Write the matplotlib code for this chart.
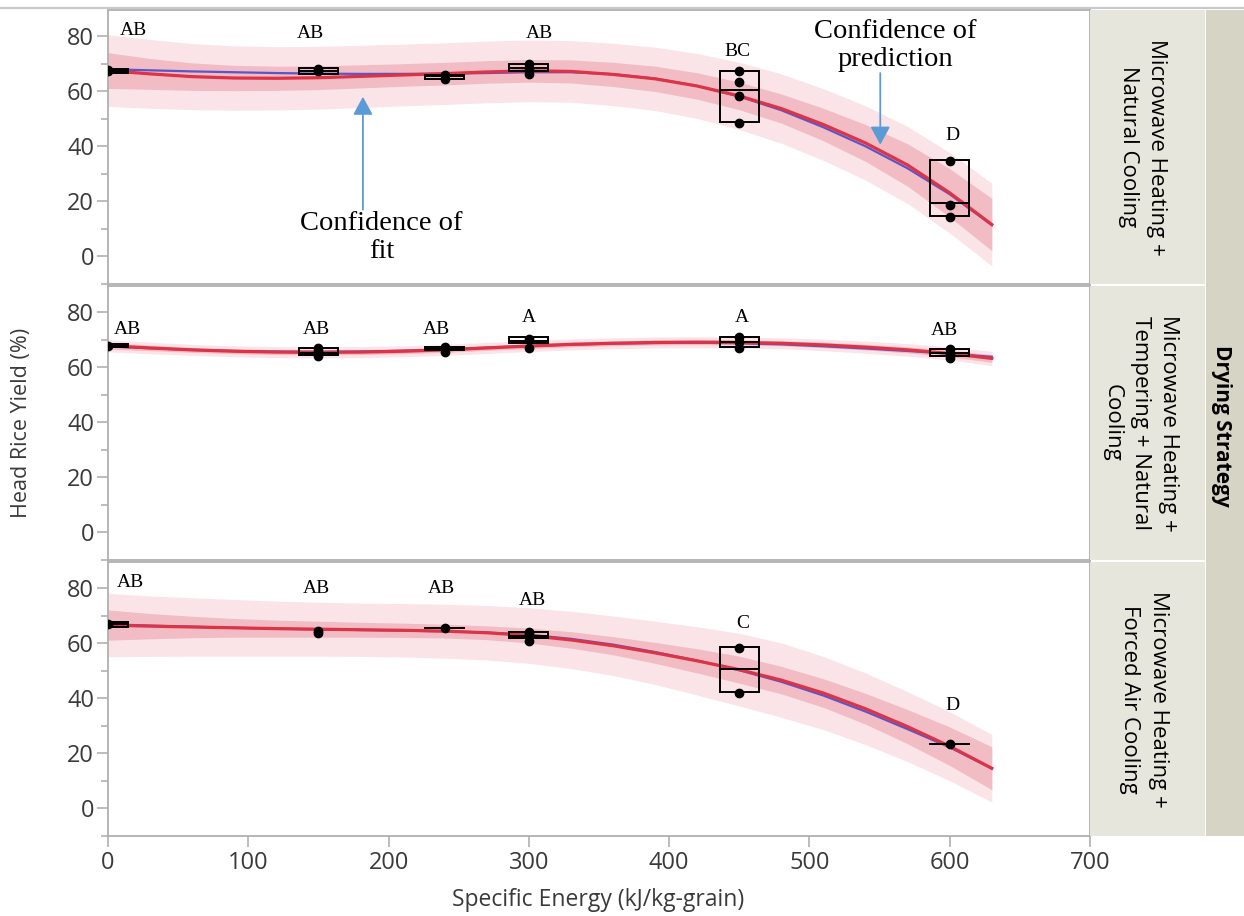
import numpy as np
import matplotlib
matplotlib.use("Agg")
import matplotlib.pyplot as plt
from matplotlib.lines import Line2D
from matplotlib.patches import Rectangle

plt.rcParams['font.family'] = ['Open Sans', 'DejaVu Sans']

# fitted curves, read at every 30 kJ/kg
energy = [0, 30, 60, 90, 120, 150, 180, 210, 240, 270, 300, 330, 360, 390, 420, 450, 480, 510, 540, 570, 600, 630]

natural_red = [67.5, 66.3, 65.3, 64.8, 64.7, 64.9, 65.4, 65.9, 66.4, 67.0, 67.4, 67.2, 66.1, 64.5, 61.9, 58.3, 53.7, 47.9, 41.2, 33.2, 23.1, 11.6]
natural_blue = [68.0, 67.6, 67.2, 66.9, 66.6, 66.4, 66.3, 66.3, 66.4, 66.6, 66.9, 66.9, 66.2, 64.6, 61.9, 58.1, 53.1, 46.9, 40.0, 32.0, 22.6, 11.4]
natural_fit_half = [6.5, 5.6, 5.0, 4.6, 4.4, 4.3, 4.2, 4.1, 4.1, 4.1, 4.1, 4.2, 4.4, 4.6, 4.8, 5.0, 5.3, 5.9, 6.7, 7.7, 8.8, 9.5]
natural_pred_half = [13.0, 12.5, 12.0, 11.7, 11.5, 11.4, 11.3, 11.2, 11.2, 11.2, 11.2, 11.2, 11.3, 11.5, 11.8, 12.2, 12.6, 13.0, 13.5, 14.0, 14.6, 15.0]

tempering_red = [67.8, 67.0, 66.3, 65.8, 65.5, 65.4, 65.5, 65.8, 66.3, 67.0, 67.7, 68.3, 68.7, 69.0, 69.1, 69.0, 68.7, 68.1, 67.3, 66.3, 65.0, 63.2]
tempering_blue = [67.6, 66.9, 66.3, 65.9, 65.7, 65.6, 65.7, 66.0, 66.5, 67.1, 67.7, 68.2, 68.6, 68.8, 68.9, 68.7, 68.3, 67.6, 66.8, 65.9, 64.9, 63.8]
tempering_fit_half = [1.2, 1.0, 0.9, 0.9, 0.9, 0.9, 0.9, 0.9, 0.9, 0.9, 0.9, 0.9, 0.9, 0.9, 0.9, 0.9, 0.9, 1.0, 1.0, 1.1, 1.2, 1.4]
tempering_pred_half = [2.2, 2.1, 2.0, 2.0, 2.0, 2.0, 2.0, 2.0, 2.0, 2.0, 2.0, 2.0, 2.0, 2.0, 2.0, 2.0, 2.0, 2.1, 2.2, 2.3, 2.4, 2.6]

forced_red = [66.6, 66.2, 65.9, 65.6, 65.3, 65.1, 64.9, 64.7, 64.4, 63.8, 62.8, 61.2, 59.1, 56.5, 53.6, 50.4, 46.6, 41.9, 36.2, 29.7, 22.6, 14.6]
forced_blue = [66.9, 66.4, 66.0, 65.6, 65.3, 65.0, 64.8, 64.6, 64.3, 63.9, 63.1, 61.6, 59.5, 56.8, 53.7, 50.2, 46.0, 41.0, 35.2, 28.8, 22.2, 14.5]
forced_fit_half = [5.5, 4.6, 3.9, 3.4, 3.1, 2.9, 2.7, 2.6, 2.5, 2.5, 2.7, 3.0, 3.3, 3.8, 4.4, 4.9, 5.0, 5.2, 5.6, 6.2, 7.0, 7.8]
forced_pred_half = [11.5, 11.0, 10.6, 10.3, 10.0, 9.8, 9.7, 9.7, 9.8, 9.9, 10.1, 10.4, 10.8, 11.5, 12.4, 13.2, 13.5, 13.3, 13.0, 12.7, 12.5, 12.3]

# observed head rice yield per energy level
groups = [0, 150, 240, 300, 450, 600]

natural_points = [[67.5, 67.8], [68.2, 67.2], [66.0, 64.3], [69.8, 68.2, 66.2], [67.3, 63.5, 58.1, 48.4], [34.8, 18.8, 14.2]]
natural_q1 = [66.8, 66.4, 64.5, 67.4, 48.7, 14.6]
natural_med = [67.5, 67.3, 65.4, 68.4, 60.5, 19.4]
natural_q3 = [68.2, 68.4, 65.9, 69.9, 67.5, 35.1]

tempering_points = [[67.8], [67.0, 65.8, 64.2], [67.4, 65.7], [70.3, 67.0], [70.9, 69.1, 66.9], [66.5, 64.7, 63.2]]
tempering_q1 = [67.3, 64.4, 66.1, 68.8, 67.2, 64.1]
tempering_med = [67.8, 65.3, 66.8, 69.6, 69.1, 65.2]
tempering_q3 = [68.3, 67.1, 67.3, 70.9, 70.9, 66.8]

forced_points = [[67.0], [64.3, 63.7], [65.6], [64.0, 63.2, 60.8], [58.4, 42.1], [23.3]]
forced_q1 = [66.0, None, 65.5, 61.8, 42.3, 23.3]
forced_med = [67.0, None, 65.5, 62.7, 50.5, 23.3]
forced_q3 = [67.6, None, 65.6, 64.2, 58.8, 23.3]

# significance letters
natural_letters = ["AB", "AB", "", "AB", "BC", "D"]
natural_letter_x = [17.8, 144, 241, 307.7, 448.6, 602]
natural_letter_y = [82.0, 81.0, 0, 81.0, 74.4, 43.8]

tempering_letters = ["AB", "AB", "AB", "A", "A", "AB"]
tempering_letter_x = [14, 148.5, 234.4, 300, 451.5, 596]
tempering_letter_y = [73.7, 73.7, 73.7, 78.2, 78.2, 73.2]

forced_letters = ["AB", "AB", "AB", "AB", "C", "D"]
forced_letter_x = [16, 148.5, 237.8, 302.6, 452.3, 601.7]
forced_letter_y = [82.2, 80.0, 80.0, 75.5, 67.0, 37.5]

strategies = ["Microwave Heating +\nNatural Cooling",
              "Microwave Heating +\nTempering + Natural\nCooling",
              "Microwave Heating +\nForced Air Cooling"]

panels = [
    (natural_red, natural_blue, natural_fit_half, natural_pred_half, natural_points, natural_q1, natural_med, natural_q3,
     natural_letters, natural_letter_x, natural_letter_y),
    (tempering_red, tempering_blue, tempering_fit_half, tempering_pred_half, tempering_points, tempering_q1, tempering_med, tempering_q3,
     tempering_letters, tempering_letter_x, tempering_letter_y),
    (forced_red, forced_blue, forced_fit_half, forced_pred_half, forced_points, forced_q1, forced_med, forced_q3,
     forced_letters, forced_letter_x, forced_letter_y),
]

W, H = 1244, 916
fig = plt.figure(figsize=(W / 100, H / 100), dpi=100)

px_left, px_right = 108, 1090
rows = [(10, 284), (286, 560), (562, 836)]
strip_x = [0.46, 0.44, 0.47]
serif = ['Liberation Serif', 'DejaVu Serif']
gray = '#b0b0b0'
x = np.array(energy)
half_w = 14

axes = []
for i, (top, bot) in enumerate(rows):
    red, blue, fit_h, pred_h, pts, q1, med, q3, letters, lx, ly = panels[i]
    ax = fig.add_axes([px_left / W, 1 - bot / H, (px_right - px_left) / W, (bot - top) / H])
    red = np.array(red)
    ax.fill_between(x, red - np.array(pred_h), red + np.array(pred_h), color='#fbe4e8', lw=0, zorder=1)
    ax.fill_between(x, red - np.array(fit_h), red + np.array(fit_h), color='#f2bcc5', lw=0, zorder=2)
    ax.plot(x, blue, color='#5a55c8', lw=1.6, zorder=3)
    ax.plot(x, red, color='#dc3347', lw=2.3, zorder=4, solid_joinstyle='round')

    for g, p, a, m, b in zip(groups, pts, q1, med, q3):
        if a is not None:
            ax.add_patch(Rectangle((g - half_w, a), 2 * half_w, b - a, fill=False, ec='black', lw=1.4, zorder=5))
            ax.plot([g - half_w, g + half_w], [m, m], color='black', lw=1.4, zorder=5)
            lo, hi = min(p), max(p)
            if lo < a:
                ax.plot([g, g], [lo, a], color='black', lw=1.2, zorder=5)
            if hi > b:
                ax.plot([g, g], [b, hi], color='black', lw=1.2, zorder=5)
        ax.plot([g] * len(p), p, 'o', color='black', ms=6, zorder=6)

    for t, tx, ty in zip(letters, lx, ly):
        if t:
            ax.text(tx, ty, t, ha='center', va='center', fontsize=14, family=serif, zorder=7)

    ax.set_xlim(0, 700)
    ax.set_ylim(-10, 89.5)
    ax.set_yticks([0, 20, 40, 60, 80])
    ax.set_yticks([-10, 10, 30, 50, 70], minor=True)
    ax.tick_params(axis='y', which='major', direction='out', length=8, width=1.2, color=gray,
                   labelsize=17, labelcolor='#3a3a3a', pad=2)
    ax.tick_params(axis='y', which='minor', direction='out', length=5, width=1.2, color=gray)
    for s in ax.spines.values():
        s.set_color(gray)
        s.set_linewidth(1.3)
    if i < 2:
        ax.set_xticks([])
    else:
        ax.set_xticks([0, 100, 200, 300, 400, 500, 600, 700])
        ax.tick_params(axis='x', direction='out', length=8, width=1.2, color=gray,
                       labelsize=17, labelcolor='#3a3a3a', pad=3)
    axes.append(ax)

    sax = fig.add_axes([px_right / W, 1 - bot / H, 115 / W, (bot - top) / H])
    sax.set_facecolor('#e7e6dd')
    sax.set_xticks([])
    sax.set_yticks([])
    for s in sax.spines.values():
        s.set_visible(False)
    sax.text(strip_x[i], 0.5, strategies[i], rotation=270, ha='center', va='center',
             multialignment='center', fontsize=16, linespacing=1.45, transform=sax.transAxes)

oax = fig.add_axes([1206 / W, 1 - 836 / H, 38 / W, 826 / H])
oax.set_facecolor('#d6d4c5')
oax.set_xticks([])
oax.set_yticks([])
for s in oax.spines.values():
    s.set_visible(False)
oax.text(0.4, 0.496, "Drying Strategy", rotation=270, ha='center', va='center',
         fontsize=15, fontweight='bold', transform=oax.transAxes)

# annotations on the first panel
top_ax = axes[0]
arrow = dict(arrowstyle='-|>,head_length=0.55,head_width=0.3', color='#5b9bd5', lw=1.3,
             mutation_scale=20, shrinkA=0, shrinkB=0)
top_ax.annotate('', xy=(181.7, 58), xytext=(181.7, 17), arrowprops=arrow, zorder=8)
top_ax.text(195, 7, "Confidence of\nfit", ha='center', va='center', fontsize=20.5,
            family=serif, linespacing=1.15, zorder=8)
top_ax.annotate('', xy=(550.5, 40.6), xytext=(550.5, 66.6), arrowprops=arrow, zorder=8)
top_ax.text(561, 76.6, "Confidence of\nprediction", ha='center', va='center', fontsize=20.5,
            family=serif, linespacing=1.15, zorder=8)

fig.text(22 / W, 1 - 423 / H, "Head Rice Yield (%)", rotation=90, ha='center', va='center',
         fontsize=15.5, color='#3a3a3a')
fig.text(598 / W, 1 - 900 / H, "Specific Energy (kJ/kg-grain)", ha='center', va='center',
         fontsize=16.5, color='#3a3a3a')

fig.add_artist(Line2D([0, 1], [1 - 7.5 / H, 1 - 7.5 / H], color='#c8c8c8', lw=1.5))

fig.savefig("out.png", dpi=100)
